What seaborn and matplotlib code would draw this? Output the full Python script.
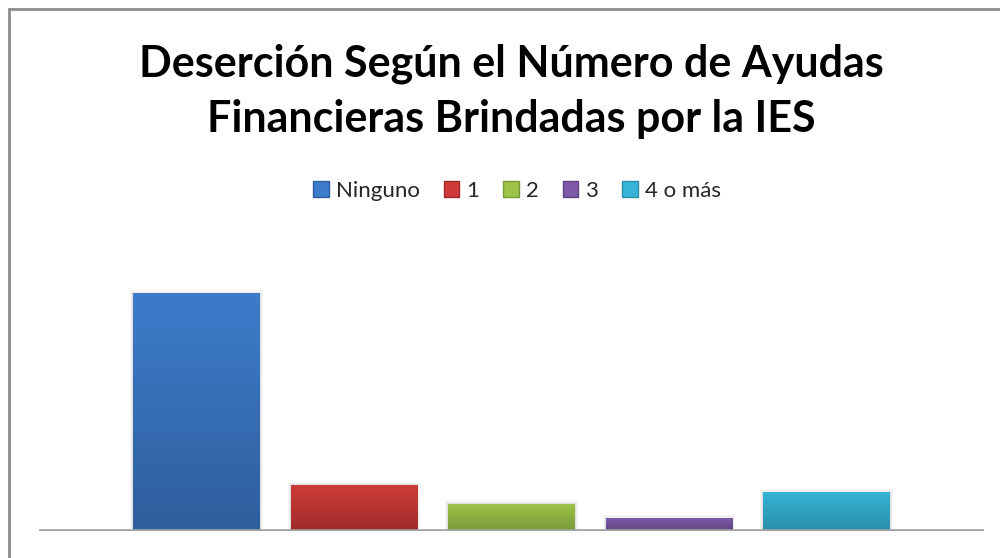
import matplotlib
matplotlib.use("Agg")
import matplotlib.pyplot as plt
import matplotlib.patches as mpatches
import matplotlib.colors as mcolors
import numpy as np
import pandas as pd
import seaborn as sns

categorias = ["Ninguno", "1", "2", "3", "4 o más"]
desercion = [65.9, 12.6, 7.5, 3.4, 10.6]
color_arriba = ["#3d7ccb", "#cd3c38", "#9dc348", "#7e5aa8", "#36b3d7"]
color_abajo = ["#2f5e9c", "#9e2b29", "#779a38", "#5f4483", "#2a8ea8"]

titulo = "Deserción Según el Número de Ayudas\nFinancieras Brindadas por la IES"

df = pd.DataFrame({"cat": categorias, "valor": desercion})

sns.set_theme(style="white")
plt.rcParams["font.family"] = ["Lato", "DejaVu Sans"]

fig = plt.figure(figsize=(10, 5.58), dpi=100)
ax = fig.add_axes([0.039, 1 - 531 / 558, 0.945, (531 - 230) / 558])

sns.barplot(data=df, x="cat", y="valor", hue="cat", palette=color_arriba,
            width=0.806, legend=False, ax=ax, saturation=1)
ymax = desercion[0] * 301 / 237

# degradado vertical en cada barra + sombra suave
for i, p in enumerate(ax.patches):
    x0, y0 = p.get_x(), p.get_y()
    w, h = p.get_width(), p.get_height()
    for k, a in enumerate([0.05, 0.04, 0.03]):
        d = 0.006 * (k + 1)
        ax.add_patch(mpatches.Rectangle((x0 - d, y0), w + 2 * d, h + ymax * 0.004 * (k + 1),
                                        facecolor="#000000", alpha=a, lw=0, zorder=1))
    cmap = mcolors.LinearSegmentedColormap.from_list(
        "g%d" % i, [color_abajo[i], color_arriba[i]])
    grad = np.linspace(0, 1, 256).reshape(-1, 1)
    ax.imshow(grad, extent=[x0, x0 + w, y0, y0 + h], origin="lower",
              aspect="auto", cmap=cmap, zorder=3, interpolation="bilinear")
    p.set_facecolor(mcolors.to_hex(cmap(0.5)))
    p.set_zorder(2)
    p.set_edgecolor("none")
    p.set_linewidth(0)
ax.set_aspect("auto")
ax.set_xlim(-1, 5)
ax.set_ylim(0, ymax)

ax.axhline(0, color="#a3a3a3", lw=2.6, zorder=4)
ax.set_xticks([])
ax.set_yticks([])
ax.set_xlabel("")
ax.set_ylabel("")
for s in ax.spines.values():
    s.set_visible(False)

# marco del gráfico
marco = mpatches.Rectangle((8.5 / 1000, -0.2), 1.2, 1.2 - 9 / 558,
                           transform=fig.transFigure, fill=False,
                           edgecolor="#8c8c8c", lw=2, zorder=10)
fig.patches.append(marco)

fig.text(0.511, 1 - 76 / 558, "Deserción Según el Número de Ayudas",
         ha="center", va="baseline", fontsize=31, fontweight="bold", color="black")
fig.text(0.511, 1 - 132 / 558, "Financieras Brindadas por la IES",
         ha="center", va="baseline", fontsize=31, fontweight="bold", color="black")

handles = [mpatches.Patch(facecolor=color_arriba[i], edgecolor=color_abajo[i],
                          label=categorias[i]) for i in range(len(categorias))]
fig.legend(handles=handles, loc="center", bbox_to_anchor=(0.517, 1 - 191 / 558),
           ncol=5, frameon=False, fontsize=16, handlelength=0.7,
           handleheight=0.7, handletextpad=0.3, columnspacing=1.1)

plt.savefig("out.png", dpi=100)
